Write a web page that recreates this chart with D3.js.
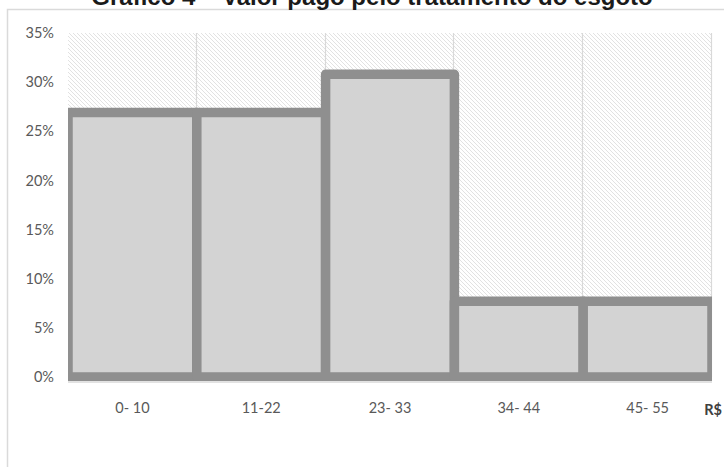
<!DOCTYPE html>
<html>
<head>
<meta charset="utf-8">
<script src="https://cdn.jsdelivr.net/npm/d3@7"></script>
<style>
  html, body { margin: 0; padding: 0; background: #fff; }
  svg { display: block; }
</style>
</head>
<body>
<svg id="chart" width="724" height="467"></svg>
<script>
// Faixas de valor pago (R$) e percentual de respondentes
const categories = ["0- 10", "11-22", "23- 33", "34- 44", "45- 55"];
const values = [26.9, 26.9, 30.8, 7.7, 7.7];
const yTicks = [0, 5, 10, 15, 20, 25, 30, 35];
const title = "Gráfico 4 – Valor pago pelo tratamento do esgoto";
const unitLabel = "R$";

const svg = d3.select("#chart");
const W = 724, H = 467;
const plot = { left: 68, right: 712, top: 33, bottom: 377 };

const x = d3.scaleBand().domain(categories).range([plot.left, plot.right]).padding(0);
const y = d3.scaleLinear().domain([0, 35]).range([plot.bottom, plot.top]);

const defs = svg.append("defs");

// diagonal hatch for the plot background
const pat = defs.append("pattern")
  .attr("id", "hatch")
  .attr("patternUnits", "userSpaceOnUse")
  .attr("width", 4).attr("height", 4);
pat.append("rect").attr("width", 4).attr("height", 4).attr("fill", "#ffffff");
pat.append("path")
  .attr("d", "M-1,-1 L5,5 M-1,3 L1,5 M3,-1 L5,1")
  .attr("stroke", "#e2e2e2").attr("stroke-width", 1);

defs.append("clipPath").attr("id", "plotClip")
  .append("rect")
  .attr("x", plot.left).attr("y", plot.top - 10)
  .attr("width", plot.right - plot.left).attr("height", plot.bottom - plot.top + 14);

// chart frame
svg.append("rect")
  .attr("x", 7.5).attr("y", 9.5)
  .attr("width", W + 10).attr("height", H + 10)
  .attr("fill", "none").attr("stroke", "#dadada").attr("stroke-width", 1.5);

// title
svg.append("text")
  .attr("x", 372).attr("y", 5)
  .attr("text-anchor", "middle")
  .attr("font-family", "Liberation Sans, Arial, sans-serif")
  .attr("font-weight", "bold")
  .attr("font-size", 24)
  .attr("fill", "#1a1a1a")
  .text(title);

// hatched plot area
svg.append("rect")
  .attr("x", plot.left).attr("y", plot.top)
  .attr("width", plot.right - plot.left).attr("height", plot.bottom - plot.top)
  .attr("fill", "url(#hatch)");

// vertical gridlines at category boundaries
const bounds = categories.map(c => x(c) + x.bandwidth());
svg.append("g").selectAll("line").data(bounds).join("line")
  .attr("x1", d => Math.round(d) - 0.5).attr("x2", d => Math.round(d) - 0.5)
  .attr("y1", plot.top).attr("y2", plot.bottom)
  .attr("stroke", "#d9d9d9").attr("stroke-width", 1.2);

// bottom axis line
svg.append("line")
  .attr("x1", plot.left).attr("x2", plot.right)
  .attr("y1", 382).attr("y2", 382)
  .attr("stroke", "#d9d9d9").attr("stroke-width", 1.5);

// bars (no gap) with thick grey border
svg.append("g").attr("clip-path", "url(#plotClip)")
  .selectAll("rect").data(categories).join("rect")
  .attr("x", d => x(d))
  .attr("y", (d, i) => y(values[i]))
  .attr("width", x.bandwidth())
  .attr("height", (d, i) => y(0) - y(values[i]))
  .attr("fill", "#d3d3d3")
  .attr("stroke", "#8f8f8f")
  .attr("stroke-width", 9.5)
  .attr("stroke-linejoin", "round");

// y axis labels
const yAxis = d3.axisLeft(y).tickValues(yTicks).tickFormat(d => d + "%").tickSize(0).tickPadding(0);
const gy = svg.append("g").attr("transform", `translate(${plot.left - 14},0)`).call(yAxis);
gy.select(".domain").remove();
gy.selectAll("text")
  .attr("font-family", "Lato, 'Open Sans', sans-serif")
  .attr("font-size", 14.5)
  .attr("fill", "#595959");

// x axis labels
const xAxis = d3.axisBottom(x).tickSize(0).tickPadding(0);
const gx = svg.append("g").attr("transform", `translate(0,403)`).call(xAxis);
gx.select(".domain").remove();
gx.selectAll("text")
  .attr("font-family", "Lato, 'Open Sans', sans-serif")
  .attr("font-size", 14.5)
  .attr("fill", "#595959");

// unit label
svg.append("text")
  .attr("x", 713).attr("y", 415)
  .attr("text-anchor", "middle")
  .attr("font-family", "Lato, 'Open Sans', sans-serif")
  .attr("font-weight", "bold")
  .attr("font-size", 14.5)
  .attr("fill", "#404040")
  .text(unitLabel);
</script>
</body>
</html>
